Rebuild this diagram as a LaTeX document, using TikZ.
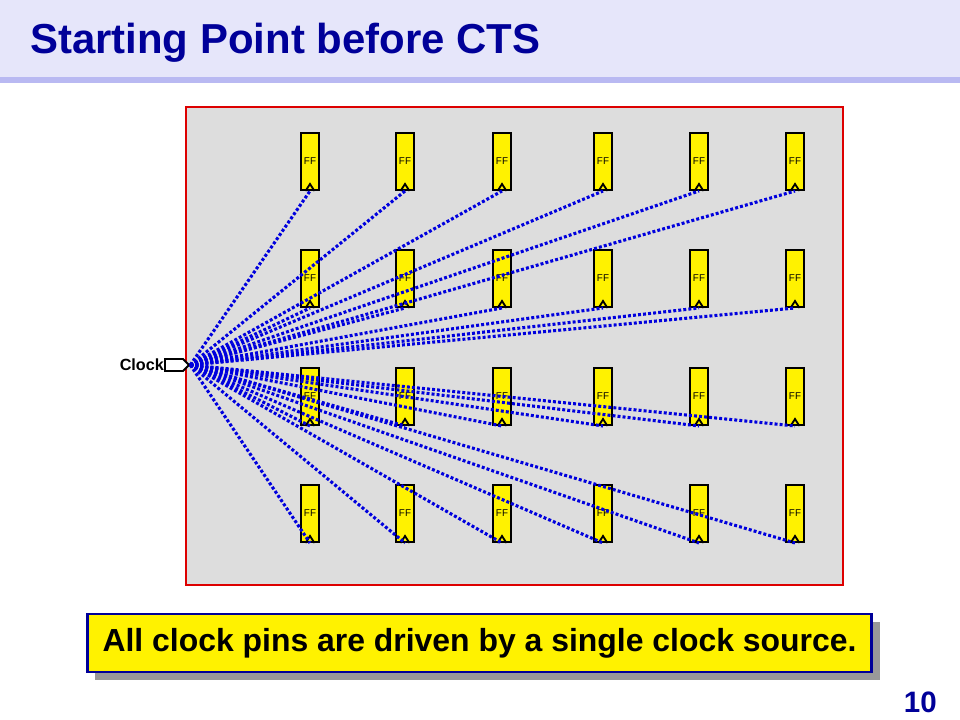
\documentclass[tikz,border=0pt]{standalone}
\usepackage{fontspec}
\setmainfont{Liberation Sans}
\usepackage{tikz}
\usetikzlibrary{positioning}
\usetikzlibrary{shapes.symbols}
\usetikzlibrary{shadows}
\definecolor{titleblue}{HTML}{000099}
\definecolor{bandlight}{HTML}{E6E6FA}
\definecolor{banddark}{HTML}{B9B9F2}
\definecolor{diegray}{HTML}{DDDDDD}
\definecolor{diered}{HTML}{DD0000}
\definecolor{wireblue}{HTML}{0000DD}
\definecolor{shadowgray}{HTML}{999999}
\tikzset{
    flop/.style = {draw=black,line width=1.4pt,fill=yellow,minimum width=0.45cm,minimum height=1.425cm,inner sep=0,font=\fontsize{7}{8}\selectfont},
    clkpin/.style = {draw=black,line width=1.3pt},
    wire/.style = {wireblue,line width=2.2pt,dash pattern=on 2.1pt off 1.5pt},
    port/.style = {shape=signal,signal to=east,signal pointer angle=90,draw=black,line width=1.3pt,fill=white,minimum width=0.6cm,minimum height=0.3cm,inner sep=0},
    note/.style = {draw=titleblue,line width=2.1pt,fill=yellow,minimum width=19.6cm,minimum height=1.45cm,inner sep=0,font=\bfseries\fontsize{22.7}{26}\selectfont}
}
\begin{document}
\begin{tikzpicture}[x=0.025cm,y=-0.025cm]
        \useasboundingbox (0,0) rectangle (960,720);
        % Title band
        \fill[bandlight] (0,0) rectangle (960,77);
        \fill[banddark] (0,77) rectangle (960,83);
        \node[anchor=base west,inner sep=0,text=titleblue,
            font=\bfseries\fontsize{29.8}{34}\selectfont] (title) at (30,54) {Starting Point before CTS};
        % Die
        \draw[diered,line width=1.4pt,fill=diegray] (186,107) rectangle (843,585);
        % Clock source
        \node[port,label={[inner sep=0,font=\bfseries\fontsize{11.5}{13}\selectfont]left:{Clock}}] (clk) at (174,365) {};
        % Flip-flops
        \foreach \x [count=\c] in {310,405,502,603,699,795}
            \foreach \y [count=\r] in {161.5,278.5,396.5,513.5} {
                \node[flop] (ff\r\c) at (\x,\y) {FF};
                \draw[clkpin] (ff\r\c.south) ++(-4.5,0) -- ++(4.5,-7) -- ++(4.5,7);
            }
        % Clock net
        \foreach \r in {1,...,4}
            \foreach \c in {1,...,6}
                \draw[wire] (clk.east) to (ff\r\c.south);
        % Note
        \node[note,drop shadow={shadow xshift=0.2cm,shadow yshift=-0.2cm,fill=shadowgray,opacity=1}] (msg) at (479.5,643)
            {All clock pins are driven by a single clock source.};
        \node[anchor=base east,inner sep=0,text=titleblue,
            font=\bfseries\fontsize{21}{24}\selectfont] (page) at (937,712) {10};
    \end{tikzpicture}
\end{document}
